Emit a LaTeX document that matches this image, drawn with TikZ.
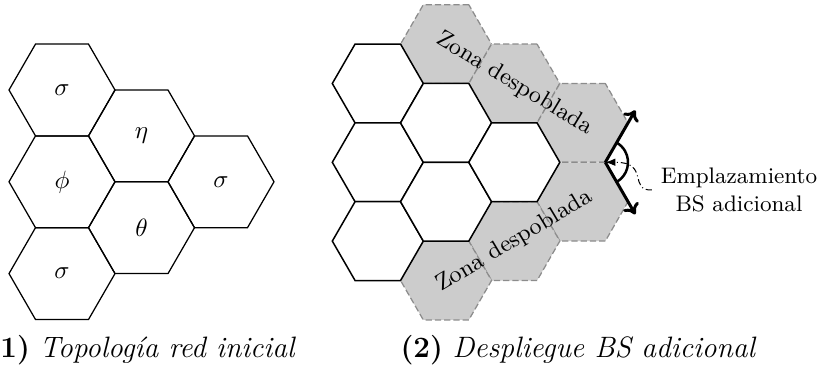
\documentclass[tikz,border=0pt]{standalone}
\usepackage{fontspec}
\usetikzlibrary{shapes.geometric,arrows.meta}
\begin{document}
\begin{tikzpicture}[x=0.4pt,y=-0.4pt,
  hexL/.style={regular polygon,regular polygon sides=6,minimum size=42.4pt,inner sep=0pt,outer sep=0pt,draw=black,line width=0.5pt,font=\fontsize{9.6}{11.5}\selectfont},
  hexW/.style={regular polygon,regular polygon sides=6,minimum size=36.4pt,inner sep=0pt,outer sep=0pt,draw=black,line width=0.6pt,fill=white},
  hexG/.style={regular polygon,regular polygon sides=6,minimum size=36.4pt,inner sep=0pt,outer sep=0pt,draw=black!45,dash pattern=on 2.5pt off 1.2pt,line width=0.5pt,fill=black!20},
  lbl/.style={font=\fontsize{9.4}{11}\selectfont},
  emptext/.style={font=\fontsize{9}{11}\selectfont,align=center},
  captext/.style={font=\fontsize{11.8}{15}\selectfont,anchor=base west,inner sep=0pt},
  bsarrow/.style={line width=1.2pt,-{To[length=4pt,width=7pt]}},
  pointer/.style={line width=0.4pt,dash pattern=on 2.5pt off 1.2pt on 0.4pt off 1.2pt,-{Latex[length=4pt,width=3pt]}}]
\useasboundingbox (0,0) rectangle (817,371);
% ---- left: initial topology ----
\node[hexL] (s1) at (62,90) {$\sigma$};
\node[hexL] (eta) at (141.5,135.9) {$\eta$};
\node[hexL] (phi) at (62,181.8) {$\phi$};
\node[hexL] (theta) at (141.5,227.7) {$\theta$};
\node[hexL] (s2) at (62,273.6) {$\sigma$};
\node[hexL] (s3) at (221,181.8) {$\sigma$};
% ---- right: additional BS ----
\node[hexG] (g1) at (446.05,44.1) {};
\node[hexG] (g2) at (514.3,83.5) {};
\node[hexG] (g3) at (582.55,122.9) {};
\node[hexG] (g4) at (582.55,201.7) {};
\node[hexG] (g5) at (514.3,241.1) {};
\node[hexG] (g6) at (446.05,280.5) {};
\node[hexW] (w1) at (377.8,83.5) {};
\node[hexW] (w2) at (377.8,162.3) {};
\node[hexW] (w3) at (377.8,241.1) {};
\node[hexW] (w4) at (446.05,122.9) {};
\node[hexW] (w5) at (446.05,201.7) {};
\node[hexW] (w6) at (514.3,162.3) {};
\node[lbl,rotate=-31] (z1) at (g2) {Zona despoblada};
\node[lbl,rotate=31] (z2) at (g5) {Zona despoblada};
\coordinate (bs) at (605.3,162.3);
\coordinate (a1) at (635.3,110.3);
\coordinate (a2) at (635.3,214.3);
\draw[bsarrow] (bs) -- (a1);
\draw[bsarrow] (bs) -- (a2);
\draw[line width=1pt] (bs) ++(60:22.7) arc (60:-60:22.7);
\node[emptext] (emp) at (739,190) {Emplazamiento\\BS adicional};
\draw[pointer] (emp.west) .. controls (628,191) and (650,162) .. (bs);
% ---- captions ----
\node[captext] (c1) at (-13,357) {\textbf{(1)} \textit{Topología red inicial}};
\node[captext] (c2) at (400,357) {\textbf{(2)} \textit{Despliegue BS adicional}};
\end{tikzpicture}
\end{document}
